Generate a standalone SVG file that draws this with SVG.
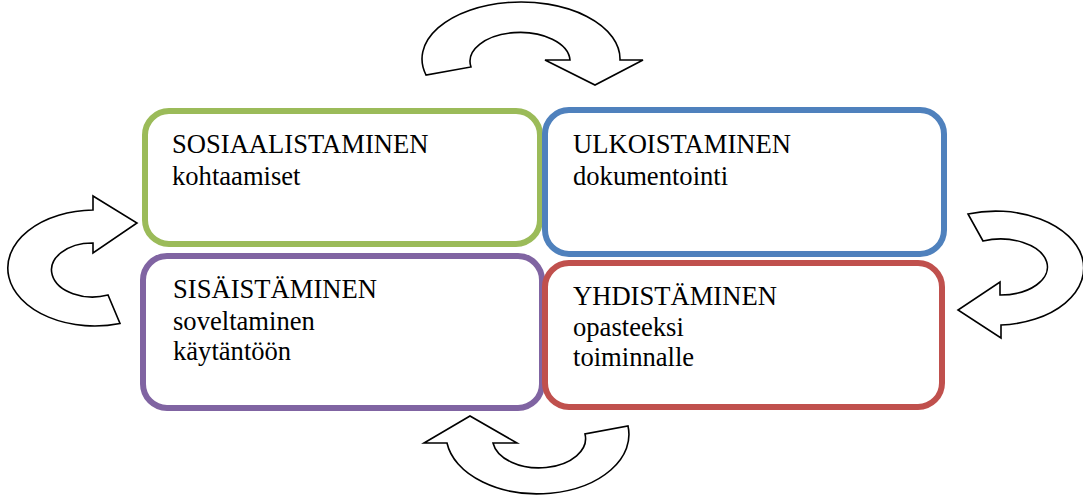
<svg xmlns="http://www.w3.org/2000/svg" width="1083" height="502" viewBox="0 0 1083 502">
<style>
.box{fill:#fff;stroke-width:6}
.t{font-family:"Liberation Serif","Times New Roman",serif;font-size:26.6px;fill:#000}
.arr{fill:#fff;stroke:#000;stroke-width:1.6;stroke-linejoin:miter}
</style>
<rect width="1083" height="502" fill="#fff"/>
<g id="connectors">
<path class="arr" d="M426,75 A99,57 0 1 1 620,60 L643,60 L595,85 L545,60 L570,60 A50,29 0 1 0 471,67 Z"/>
<path class="arr" d="M120,323.5 A87,58 0 1 1 93,210 L93,196 L137,223 L93,253 L93,243 A41,27 0 1 0 108,295 Z"/>
<path class="arr" d="M968,214 A88,57 0 1 1 1001,325 L1001,338 L958,310 L1000,282 L1000,295 A47,28 0 1 0 983,241 Z"/>
<path class="arr" d="M628,426 A91,59 0 1 1 447,443 L424,443 L470,416 L517,443 L493,443 A46,29 0 1 0 585,434 Z"/>
</g>
<g id="sosiaalistaminen">
<rect class="box" x="145" y="111" width="395" height="133" rx="24" stroke="#9bbb59"/>
<text class="t" x="172" y="153">SOSIAALISTAMINEN</text>
<text class="t" x="172" y="185">kohtaamiset</text>
</g>
<g id="ulkoistaminen">
<rect class="box" x="545" y="110" width="399" height="144" rx="24" stroke="#4f81bd"/>
<text class="t" x="573" y="153">ULKOISTAMINEN</text>
<text class="t" x="573" y="185">dokumentointi</text>
</g>
<g id="sisaistaminen">
<rect class="box" x="143" y="256" width="399" height="152" rx="24" stroke="#8064a2"/>
<text class="t" x="173" y="298">SISÄISTÄMINEN</text>
<text class="t" x="173" y="330">soveltaminen</text>
<text class="t" x="173" y="360">käytäntöön</text>
</g>
<g id="yhdistaminen">
<rect class="box" x="545" y="263" width="397" height="144" rx="24" stroke="#c0504d"/>
<text class="t" x="573" y="305">YHDISTÄMINEN</text>
<text class="t" x="573" y="336">opasteeksi</text>
<text class="t" x="573" y="366">toiminnalle</text>
</g>
</svg>
